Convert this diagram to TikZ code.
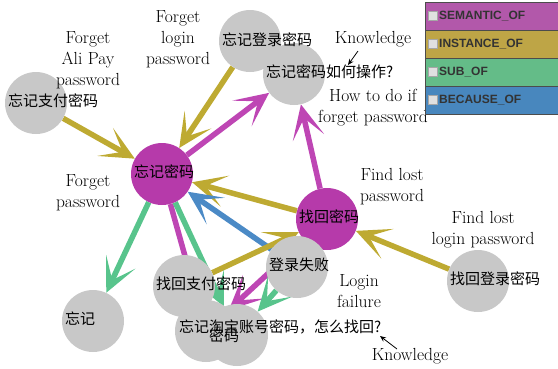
\documentclass[tikz,border=0pt]{standalone}
\usepackage{fontspec}
\newfontfamily\cjk{Noto Sans CJK SC}
\newfontfamily\legfont{Liberation Sans}
\usetikzlibrary{arrows.meta,backgrounds}
\definecolor{nodegray}{HTML}{C8C8C8}
\definecolor{nodepurple}{HTML}{B63AAA}
\definecolor{edgepurple}{HTML}{BE46B4}
\definecolor{edgeolive}{HTML}{BEAA32}
\definecolor{edgegreen}{HTML}{58C48C}
\definecolor{edgeblue}{HTML}{4B8AC6}
\definecolor{legpurple}{HTML}{B258AA}
\definecolor{legolive}{HTML}{BEA546}
\definecolor{leggreen}{HTML}{64BC88}
\definecolor{legblue}{HTML}{4887BE}
\definecolor{legtext}{HTML}{333333}
\begin{document}
\begin{tikzpicture}[x=1pt,y=-1pt,
  ball/.style={circle, minimum size=62pt, inner sep=0pt},
  grayball/.style={ball, fill=nodegray},
  purpleball/.style={ball, fill=nodepurple},
  cn/.style={font=\cjk\fontsize{15}{18}\selectfont, anchor=west, inner sep=0pt},
  lbl/.style={font=\fontsize{17.5}{21}\selectfont, align=center, inner sep=0pt},
  rel/.style={line width=5.5pt, -{Stealth[length=34pt,width=32pt,inset=20pt]}},
  knowarrow/.style={line width=0.8pt, -{Stealth[length=6pt,width=5pt]}},
  legrow/.style={draw=black!70, line width=0.6pt, minimum width=133pt, minimum height=28pt, inner sep=0pt},
  legbox/.style={fill=black!12, draw=black!35, line width=0.4pt, minimum size=9pt, inner sep=0pt},
  legtxt/.style={font=\legfont\bfseries\fontsize{12}{14}\selectfont, text=legtext, anchor=west, inner sep=0pt},
]
\useasboundingbox (0,0) rectangle (558,368);
% circles
\node[purpleball] (wjmm) at (162,174) {};
\node[purpleball] (zhmm) at (327,219) {};
\node[grayball] (fzf) at (36,103) {};
\node[grayball] (fdl) at (250,41) {};
\node[grayball] (rhcz) at (294,74) {};
\node[grayball] (zhdl) at (478,281) {};
\node[grayball] (dlsb) at (297,267) {};
\node[grayball] (zhzf) at (184,286) {};
\node[grayball] (wj) at (93,321) {};
\node[grayball] (tb) at (206,331) {};
\node[grayball] (mm) at (237,335) {};
% edges
\begin{scope}[on background layer]
\draw[rel, edgeolive] (fzf) -- (wjmm);
\draw[rel, edgeolive] (fdl) -- (wjmm);
\draw[rel, edgepurple] (wjmm) -- (rhcz);
\draw[rel, edgepurple] (zhmm) -- (rhcz);
\draw[rel, edgeolive] (zhmm) -- (wjmm);
\draw[rel, edgeblue] (dlsb) -- (wjmm);
\draw[rel, edgegreen] (wjmm) -- (wj);
\draw[rel, edgeolive] (zhdl) -- (zhmm);
\draw[rel, edgeolive] (zhzf) -- (zhmm);
\draw[rel, edgepurple] (wjmm) -- (tb);
\draw[rel, edgegreen] (wjmm) -- (mm);
\draw[rel, edgepurple] (zhmm) -- (tb);
\draw[rel, edgegreen] (dlsb) -- (mm);
\end{scope}
% node texts
\node[cn] (fzf-t) at (8,101) {忘记支付密码};
\node[cn] (fdl-t) at (222,40) {忘记登录密码};
\node[cn] (rhcz-t) at (266,72) {忘记密码如何操作?};
\node[cn] (wjmm-t) at (134,172) {忘记密码};
\node[cn] (zhmm-t) at (299,217) {找回密码};
\node[cn] (zhdl-t) at (450,279) {找回登录密码};
\node[cn] (dlsb-t) at (269,265) {登录失败};
\node[cn] (zhzf-t) at (156,284) {找回支付密码};
\node[cn] (wj-t) at (65,319) {忘记};
\node[cn] (tb-t) at (179,327) {忘记淘宝账号密码，怎么找回?};
\node[cn] (mm-t) at (209,336) {密码};
% labels
\node[lbl] (l1) at (88,60) {Forget\\Ali Pay\\password};
\node[lbl] (l2) at (178,39) {Forget\\login\\password};
\node[lbl] (l3) at (373,108) {How to do if\\forget password};
\node[lbl] (l4) at (88,193) {Forget\\password};
\node[lbl] (l5) at (392,187) {Find lost\\password};
\node[lbl] (l6) at (483,230) {Find lost\\login password};
\node[lbl] (l7) at (359,291) {Login\\failure};
\node[lbl] (k1) at (373,39) {Knowledge};
\node[lbl] (k2) at (410,356) {Knowledge};
\coordinate (k1a) at (358,51);
\coordinate (k1b) at (348,65);
\coordinate (k2a) at (397,349);
\coordinate (k2b) at (380,336);
\draw[knowarrow] (k1a) -- (k1b);
\draw[knowarrow] (k2a) -- (k2b);
% legend
\node[legrow, fill=legpurple] (g1) at (491.5,16) {};
\node[legrow, fill=legolive] (g2) at (491.5,44) {};
\node[legrow, fill=leggreen] (g3) at (491.5,72) {};
\node[legrow, fill=legblue] (g4) at (491.5,100) {};
\node[legbox] (b1) at (432.5,16) {};
\node[legbox] (b2) at (432.5,44) {};
\node[legbox] (b3) at (432.5,72) {};
\node[legbox] (b4) at (432.5,100) {};
\node[legtxt] (t1) at (439,16) {SEMANTIC\_OF};
\node[legtxt] (t2) at (439,44) {INSTANCE\_OF};
\node[legtxt] (t3) at (439,72) {SUB\_OF};
\node[legtxt] (t4) at (439,100) {BECAUSE\_OF};
\end{tikzpicture}
\end{document}
